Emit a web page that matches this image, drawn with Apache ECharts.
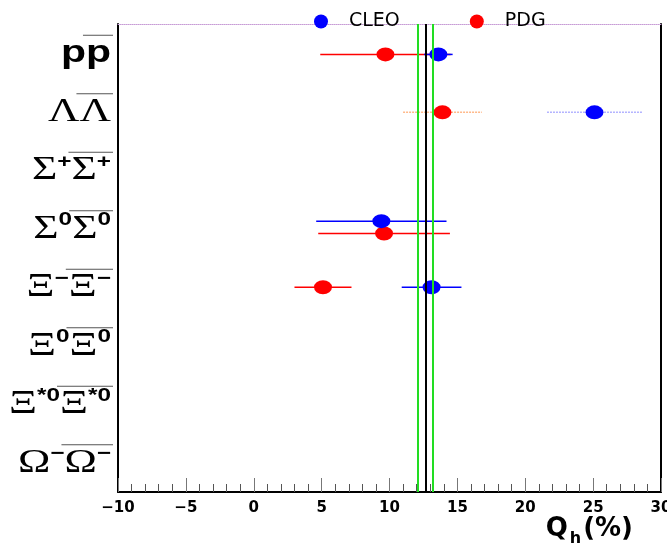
<!DOCTYPE html>
<html><head><meta charset="utf-8">
<script src="https://cdn.jsdelivr.net/npm/echarts@6/dist/echarts.min.js"></script>
<style>html,body{margin:0;padding:0;background:#fff}#c{width:667px;height:548px}</style>
</head><body><div id="c"></div>
<script>
// ---- data ----
const categories = ['pp̄', 'ΛΛ̄', 'Σ⁺Σ̄⁺', 'Σ⁰Σ̄⁰', 'Ξ⁻Ξ̄⁻', 'Ξ⁰Ξ̄⁰', 'Ξ*⁰Ξ̄*⁰', 'Ω⁻Ω̄⁻'];
// tick label pieces: [base letter, superscript]
const labelBase = ['p', 'Λ', 'Σ', 'Σ', 'Ξ', 'Ξ', 'Ξ', 'Ω'];
const labelSup  = ['', '', '+', '0', '−', '0', '*0', '−'];
const cleoValue = [13.6, 25.1, null, 9.4, 13.1, null, null, null];
const cleoError = [1.05, 3.5, null, 4.8, 2.2, null, null, null];
const pdgValue  = [9.7, 13.9, null, 9.6, 5.1, null, null, null];
const pdgError  = [4.8, 2.9, null, 4.85, 2.1, null, null, null];
const refLine = 12.65;
const refBand = [12.1, 13.2];
const xMin = -10, xMax = 30, xStep = 5;
// ---- layout / style helpers (not data) ----
const cleoShift = [0.02, 0.01, 0, -0.13, 0, 0, 0, 0];
const pdgShift  = [0.02, 0.01, 0, 0.08, 0, 0, 0, 0];
const fadedRow  = [0, 1, 0, 0, 0, 0, 0, 0];

const ellipse = 'path://M0,50 A50,50 0 1 1 100,50 A50,50 0 1 1 0,50 Z';

function pts(vals, errs, shift) {
  const out = [];
  vals.forEach((v, i) => { if (v !== null) out.push([v, i + 0.5 + shift[i], errs[i], fadedRow[i]]); });
  return out;
}
const cleoData = pts(cleoValue, cleoError, cleoShift);
const pdgData = pts(pdgValue, pdgError, pdgShift);

function barRenderer(color, faded) {
  return function (params, api) {
    const x = api.value(0), y = api.value(1), e = api.value(2), f = api.value(3);
    const p1 = api.coord([x - e, y]), p2 = api.coord([x + e, y]);
    return {
      type: 'line',
      shape: { x1: p1[0], y1: p1[1], x2: p2[0], y2: p2[1] },
      style: { stroke: f ? faded : color, lineWidth: 1.5, lineDash: f ? [2, 1] : null }
    };
  };
}

const chart = echarts.init(document.getElementById('c'), null, { renderer: 'canvas' });
const option = {
  backgroundColor: '#fff',
  animation: false,
  grid: { left: 118, right: 6, top: 24, bottom: 56, containLabel: false, outerBoundsMode: 'none' },
  legend: {
    data: ['CLEO', 'PDG'],
    left: 309, top: 7,
    icon: ellipse,
    itemWidth: 20, itemHeight: 14, itemGap: 70,
    textStyle: { fontFamily: 'DejaVu Sans', fontSize: 19, color: '#000', padding: [0, 0, 0, 13] }
  },
  xAxis: [{
    type: 'value', min: xMin, max: xMax, interval: xStep, position: 'bottom',
    axisLine: { onZero: false, lineStyle: { color: '#000', width: 2 } },
    axisTick: { inside: true, length: 14, lineStyle: { color: '#777', width: 1 } },
    minorTick: { show: true, splitNumber: 5, length: 8, lineStyle: { color: '#555', width: 1 } },
    splitLine: { show: false },
    axisLabel: {
      margin: 9, color: '#000', fontFamily: 'DejaVu Sans', fontWeight: 'bold', fontSize: 15,
      formatter: v => (v < 0 ? '−' + Math.abs(v) : String(v))
    },
    name: '{a|Q}{b|h}{a|(%)}',
    nameLocation: 'end', nameGap: -28, nameMoveOverlap: false,
    nameTextStyle: {
      align: 'right', verticalAlign: 'top', padding: [24, 0, 0, 0],
      rich: {
        a: { fontFamily: 'DejaVu Sans', fontWeight: 'bold', fontSize: 26, lineHeight: 26, verticalAlign: 'top', color: '#000' },
        b: { fontFamily: 'DejaVu Sans', fontWeight: 'bold', fontSize: 16, lineHeight: 18, padding: [15, 2, 0, 2], verticalAlign: 'top', color: '#000' }
      }
    }
  }, {
    type: 'value', min: xMin, max: xMax, position: 'top',
    axisLine: { show: true, onZero: false, lineStyle: { color: '#c79bd6', width: 1, type: 'dotted' } },
    axisTick: { show: false }, axisLabel: { show: false }, splitLine: { show: false }
  }],
  yAxis: [{
    type: 'category', data: categories, inverse: true, boundaryGap: true, position: 'left',
    axisLine: { onZero: false, lineStyle: { color: '#000', width: 2 } },
    axisTick: { inside: true, length: 15, interval: 0, lineStyle: { color: '#333', width: 2 } },
    axisLabel: { show: false },
    splitLine: { show: false }
  }, {
    type: 'value', min: 0, max: 8, inverse: true, position: 'right',
    axisLine: { show: true, onZero: false, lineStyle: { color: '#000', width: 2 } },
    axisTick: { show: false }, axisLabel: { show: false }, splitLine: { show: false }
  }],
  series: [
    {
      type: 'custom', name: 'PDG err', xAxisIndex: 0, yAxisIndex: 1, z: 2,
      encode: { x: 0, y: 1 }, data: pdgData, renderItem: barRenderer('#ff0000', '#ffb98a'),
      markLine: {
        silent: true, symbol: 'none', label: { show: false }, z: 6,
        data: [
          { xAxis: refBand[0], lineStyle: { color: '#22dd22', width: 2, type: 'solid' } },
          { xAxis: refBand[1], lineStyle: { color: '#22dd22', width: 2, type: 'solid' } },
          { xAxis: refLine, lineStyle: { color: '#000', width: 2, type: 'solid' } }
        ]
      }
    },
    {
      type: 'custom', name: 'CLEO err', xAxisIndex: 0, yAxisIndex: 1, z: 3,
      encode: { x: 0, y: 1 }, data: cleoData, renderItem: barRenderer('#0000ff', '#b4b4ff')
    },
    {
      type: 'scatter', name: 'PDG', xAxisIndex: 0, yAxisIndex: 1, z: 4,
      symbol: ellipse, symbolSize: [18, 14], itemStyle: { color: '#ff0000', opacity: 1 },
      data: pdgData
    },
    {
      type: 'scatter', name: 'CLEO', xAxisIndex: 0, yAxisIndex: 1, z: 4,
      symbol: ellipse, symbolSize: [18, 14], itemStyle: { color: '#0000ff', opacity: 1 },
      data: cleoData
    }
  ]
};
chart.setOption(option);

// ---- y tick labels with overlines ----
const fonts = {
  p: 'bold 32px "Liberation Sans"',
  m: '34px "Liberation Serif"',
  s: 'bold 19px "Liberation Sans"'
};
const rich = {
  p: { fontFamily: 'Liberation Sans', fontWeight: 'bold', fontSize: 32, lineHeight: 36, verticalAlign: 'middle', color: '#000' },
  m: { fontFamily: 'Liberation Serif', fontSize: 34, lineHeight: 36, verticalAlign: 'middle', color: '#000' },
  s: { fontFamily: 'Liberation Sans', fontWeight: 'bold', fontSize: 19, verticalAlign: 'top', color: '#000' }
};
const ctx = document.createElement('canvas').getContext('2d');
function w(font, t) { ctx.font = font; return ctx.measureText(t).width; }
const rightX = 111, sx = 1.28;
const graphics = [];
categories.forEach((c, i) => {
  const cy = chart.convertToPixel({ yAxisIndex: 1 }, i + 0.5);
  const base = labelBase[i], sup = labelSup[i];
  const bk = base === 'p' ? 'p' : 'm';
  const half = '{' + bk + '|' + base + '}' + (sup ? '{s|' + sup + '}' : '');
  const halfW = w(fonts[bk], base) + (sup ? w(fonts.s, sup) : 0);
  graphics.push({
    type: 'text', x: rightX, y: cy, scaleX: sx, z: 10,
    style: { text: half + half, rich: rich, align: 'right', verticalAlign: 'middle' }
  });
  graphics.push({
    type: 'line', z: 10,
    shape: { x1: rightX - halfW * sx - 3, y1: cy - 18, x2: rightX + 2, y2: cy - 18 },
    style: { stroke: '#555', lineWidth: 1 }
  });
});
chart.setOption({ graphic: graphics });
</script>
</body></html>
